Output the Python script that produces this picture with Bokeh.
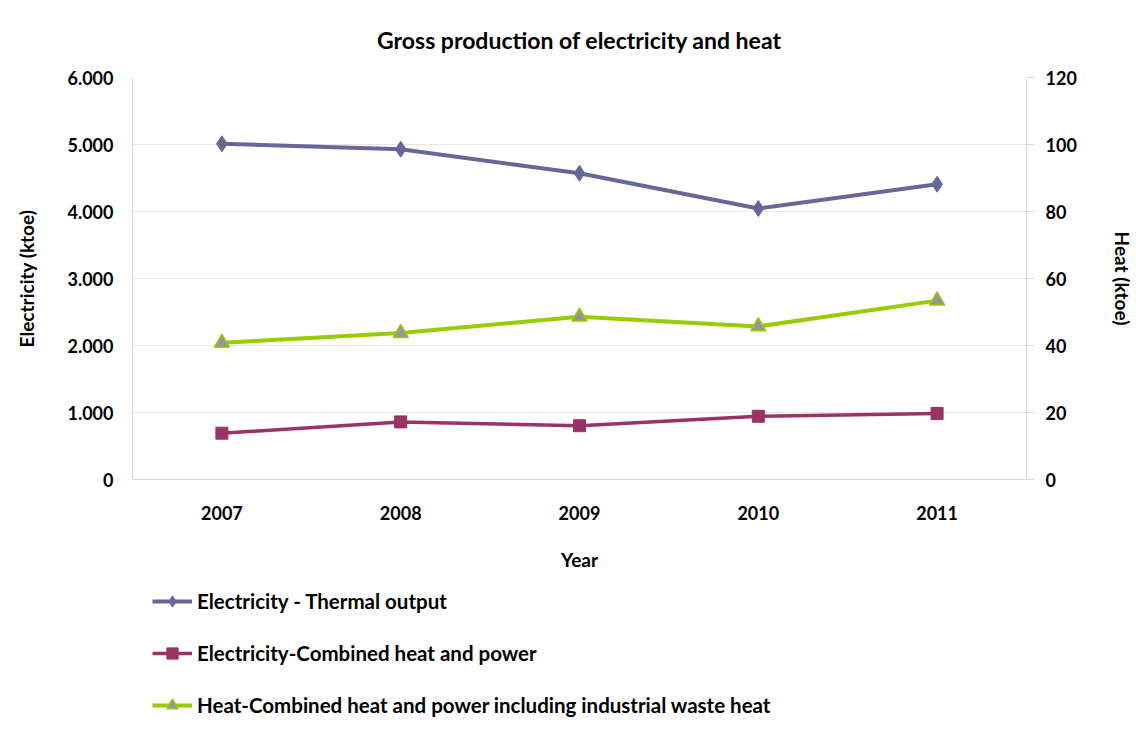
from bokeh.plotting import figure
from bokeh.layouts import column
from bokeh.models import (FactorRange, Range1d, LinearAxis, Legend, LegendItem,
                          CustomJSTickFormatter, SingleIntervalTicker)
from bokeh.embed import file_html
from bokeh.resources import INLINE

years = ["2007", "2008", "2009", "2010", "2011"]
elec_thermal = [5010, 4930, 4570, 4045, 4407]
elec_chp = [691, 860, 803, 944, 985]
heat_chp = [40.8, 43.7, 48.6, 45.7, 53.4]
series_names = ["Electricity - Thermal output",
                "Electricity-Combined heat and power",
                "Heat-Combined heat and power including industrial waste heat"]

FONT = "Lato"
W = 1136

p = figure(width=W, height=580, output_backend="svg", toolbar_location=None,
           x_range=FactorRange(factors=years, range_padding=0),
           y_range=Range1d(0, 6000),
           min_border_left=132, min_border_right=102, min_border_top=76, min_border_bottom=101)
p.outline_line_color = None
p.background_fill_color = "white"
p.border_fill_color = "white"

p.title.text = "Gross production of electricity and heat"
p.title.align = "center"
p.title.text_font = FONT
p.title.text_font_size = "23px"
p.title.text_font_style = "bold"
p.title.text_color = "#000000"
p.title.standoff = 47

p.extra_y_ranges = {"heat": Range1d(0, 120)}

p.xgrid.grid_line_color = None
p.ygrid.grid_line_color = "#e6e6e6"
p.ygrid.grid_line_width = 1

ya = p.yaxis[0]
ya.ticker = SingleIntervalTicker(interval=1000)
ya.formatter = CustomJSTickFormatter(code="""
return Math.round(tick).toString().replace(/\\B(?=(\\d{3})+(?!\\d))/g, '.');
""")
ya.axis_label = "Electricity (ktoe)"
ya.axis_line_color = "#d9d9d9"
ya.major_tick_line_color = None
ya.minor_tick_line_color = None
ya.major_label_standoff = 13
ya.axis_label_standoff = 26

ra = LinearAxis(y_range_name="heat", axis_label="Heat (ktoe)",
                ticker=SingleIntervalTicker(interval=20))
ra.axis_line_color = "#d9d9d9"
ra.major_tick_line_color = "#d9d9d9"
ra.major_tick_out = 8
ra.major_tick_in = 0
ra.minor_tick_line_color = None
ra.major_label_standoff = 11
ra.axis_label_standoff = 31

xa = p.xaxis[0]
xa.axis_label = "Year"
xa.axis_line_color = "#d9d9d9"
xa.major_tick_line_color = None
xa.minor_tick_line_color = None
xa.major_label_standoff = 20
xa.axis_label_standoff = 25

for ax in [ya, ra, xa]:
    ax.major_label_text_font = FONT
    ax.major_label_text_font_size = "18px"
    ax.major_label_text_font_style = "bold"
    ax.major_label_text_color = "#000000"
    ax.axis_label_text_font = FONT
    ax.axis_label_text_font_size = "19px"
    ax.axis_label_text_font_style = "bold"
    ax.axis_label_text_color = "#000000"

p.add_layout(ra, "right")

c1, c2, c3 = "#666699", "#993366", "#99cc00"

def draw(fig, ys, color, marker, msize, lw, mfill, mlw, yname="default"):
    ln = fig.line(years, ys, line_color=color, line_width=lw, y_range_name=yname)
    sc = fig.scatter(years, ys, marker=marker, size=msize, fill_color=mfill,
                     line_color=color, line_width=mlw, y_range_name=yname)
    return ln, sc

draw(p, elec_thermal, c1, "diamond", 16, 4, c1, 1)
draw(p, elec_chp, c2, "square", 12, 3.5, c2, 1)
draw(p, heat_chp, c3, "triangle", 15, 4, "#969696", 1.5, "heat")

# legend panel below the chart (its series lie outside its visible range;
# only the legend is shown)
q = figure(width=W, height=165, output_backend="svg", toolbar_location=None,
           x_axis_type=None, y_axis_type=None, min_border=0,
           x_range=FactorRange(factors=years, range_padding=0),
           y_range=Range1d(100000, 200000))
q.outline_line_color = None
q.grid.visible = False
q.border_fill_color = "white"
q.background_fill_color = "white"

r1 = draw(q, elec_thermal, c1, "diamond", 13, 4, c1, 1)
r2 = draw(q, elec_chp, c2, "square", 11, 3.5, c2, 1)
r3 = draw(q, heat_chp, c3, "triangle", 12, 4, "#969696", 1.5)

legend = Legend(items=[
    LegendItem(label=series_names[0], renderers=list(r1)),
    LegendItem(label=series_names[1], renderers=list(r2)),
    LegendItem(label=series_names[2], renderers=list(r3)),
], location=(20, 26))
legend.label_text_font = FONT
legend.label_text_font_size = "20.5px"
legend.label_text_font_style = "bold"
legend.label_text_color = "#000000"
legend.glyph_width = 40
legend.glyph_height = 28
legend.label_height = 20
legend.label_standoff = 5
legend.spacing = 24
legend.padding = 0
legend.margin = 0
legend.border_line_color = None
legend.background_fill_alpha = 0
q.add_layout(legend, "center")

layout = column(p, q, spacing=0)
open("out.html", "w").write(file_html(layout, INLINE))
